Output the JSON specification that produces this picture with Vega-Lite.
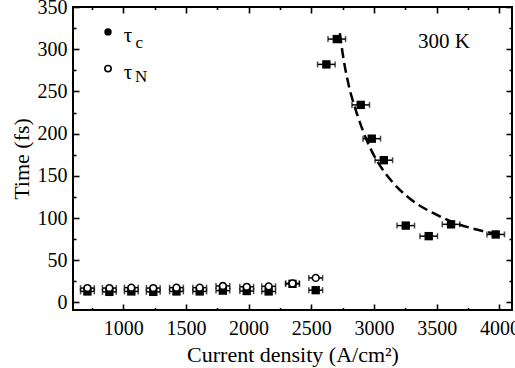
{
  "$schema": "https://vega.github.io/schema/vega-lite/v6.json",
  "width": 439,
  "height": 303,
  "autosize": {"type": "none"},
  "padding": {"left": 73, "top": 7, "right": 3, "bottom": 58},
  "background": "white",
  "config": {
    "view": {"stroke": "black", "strokeWidth": 2},
    "axis": {
      "labelFont": "serif",
      "labelFontSize": 20,
      "labelColor": "black",
      "titleFont": "serif",
      "titleFontSize": 22,
      "titleFontWeight": "normal",
      "titleColor": "black",
      "domain": false,
      "ticks": true,
      "tickColor": "black",
      "tickWidth": 1.6,
      "tickOpacity": 1,
      "grid": false
    }
  },
  "datasets": {
    "fit": [
      {"x": 2728, "y": 319}, {"x": 2745, "y": 300}, {"x": 2800, "y": 256},
      {"x": 2850, "y": 230}, {"x": 2900, "y": 208}, {"x": 2945, "y": 191},
      {"x": 3000, "y": 174}, {"x": 3075, "y": 156}, {"x": 3150, "y": 142},
      {"x": 3260, "y": 126}, {"x": 3350, "y": 116}, {"x": 3470, "y": 106},
      {"x": 3630, "y": 95}, {"x": 3800, "y": 87}, {"x": 3975, "y": 81}
    ],
    "pts": [
      {"s": "tc", "x": 715, "y": 13, "xerr": 55},
      {"s": "tc", "x": 890, "y": 12.5, "xerr": 55},
      {"s": "tc", "x": 1065, "y": 13, "xerr": 55},
      {"s": "tc", "x": 1240, "y": 12.5, "xerr": 55},
      {"s": "tc", "x": 1425, "y": 13, "xerr": 55},
      {"s": "tc", "x": 1610, "y": 13, "xerr": 55},
      {"s": "tc", "x": 1795, "y": 14, "xerr": 55},
      {"s": "tc", "x": 1985, "y": 13.5, "xerr": 55},
      {"s": "tc", "x": 2160, "y": 13, "xerr": 55},
      {"s": "tc", "x": 2350, "y": 22, "xerr": 55},
      {"s": "tc", "x": 2535, "y": 14.5, "xerr": 55},
      {"s": "tc", "x": 2620, "y": 282, "xerr": 70},
      {"s": "tc", "x": 2703, "y": 312, "xerr": 70},
      {"s": "tc", "x": 2894, "y": 234, "xerr": 70},
      {"s": "tc", "x": 2982, "y": 194, "xerr": 70},
      {"s": "tc", "x": 3078, "y": 168.5, "xerr": 70},
      {"s": "tc", "x": 3253, "y": 91, "xerr": 70},
      {"s": "tc", "x": 3436, "y": 78.5, "xerr": 70},
      {"s": "tc", "x": 3614, "y": 92.5, "xerr": 70},
      {"s": "tc", "x": 3970, "y": 80.5, "xerr": 70},
      {"s": "tN", "x": 715, "y": 17, "xerr": 55},
      {"s": "tN", "x": 890, "y": 17, "xerr": 55},
      {"s": "tN", "x": 1065, "y": 17.5, "xerr": 55},
      {"s": "tN", "x": 1240, "y": 17, "xerr": 55},
      {"s": "tN", "x": 1425, "y": 17.5, "xerr": 55},
      {"s": "tN", "x": 1610, "y": 17.5, "xerr": 55},
      {"s": "tN", "x": 1795, "y": 19.5, "xerr": 55},
      {"s": "tN", "x": 1985, "y": 18.5, "xerr": 55},
      {"s": "tN", "x": 2160, "y": 19, "xerr": 55},
      {"s": "tN", "x": 2350, "y": 22.5, "xerr": 55},
      {"s": "tN", "x": 2535, "y": 29, "xerr": 55}
    ],
    "leg": [
      {"s": "tc", "x": 879, "y": 320.5},
      {"s": "tN", "x": 879, "y": 277}
    ],
    "txt": [
      {"kind": "main", "x": 1004, "y": 308, "t": "τ"},
      {"kind": "sub", "x": 1098, "y": 302, "t": "c"},
      {"kind": "main", "x": 1004, "y": 265, "t": "τ"},
      {"kind": "sub", "x": 1095, "y": 261, "t": "N"},
      {"kind": "label", "x": 3350, "y": 302, "t": "300 K"}
    ]
  },
  "resolve": {"axis": {"x": "independent", "y": "independent"}},
  "layer": [
    {
      "encoding": {
        "x": {
          "field": "x",
          "type": "quantitative",
          "scale": {"domain": [600, 4100], "nice": false, "zero": false},
          "axis": {
            "orient": "bottom",
            "title": "Current density (A/cm²)",
            "values": [750, 1000, 1250, 1500, 1750, 2000, 2250, 2500, 2750, 3000, 3250, 3500, 3750, 4000],
            "format": "d",
            "labelExpr": "datum.value % 500 === 0 ? datum.label : ''",
            "labelPadding": 14,
            "titlePadding": 6,
            "tickSize": {"condition": {"test": "datum.value % 500 === 0", "value": -6}, "value": -2.5}
          }
        },
        "y": {
          "field": "y",
          "type": "quantitative",
          "scale": {"domain": [-9, 350], "nice": false, "zero": false},
          "axis": {
            "orient": "left",
            "title": "Time (fs)",
            "values": [0, 25, 50, 75, 100, 125, 150, 175, 200, 225, 250, 275, 300, 325, 350],
            "format": "d",
            "labelExpr": "datum.value % 50 === 0 ? datum.label : ''",
            "labelPadding": 12,
            "titlePadding": 4,
            "tickSize": {"condition": {"test": "datum.value % 50 === 0", "value": -6}, "value": -3}
          }
        }
      },
      "layer": [
        {
          "data": {"name": "fit"},
          "mark": {"type": "line", "color": "black", "strokeWidth": 2.5, "strokeDash": [10, 5], "interpolate": "monotone"}
        },
        {
          "data": {"name": "pts"},
          "mark": {"type": "errorbar", "color": "black", "thickness": 1.5, "ticks": {"size": 6, "thickness": 1.5, "color": "black"}},
          "encoding": {"xError": {"field": "xerr"}}
        },
        {
          "data": {"name": "pts"},
          "transform": [{"filter": "datum.s === 'tc'"}],
          "mark": {"type": "square", "color": "black", "filled": true, "opacity": 1, "size": 70}
        },
        {
          "data": {"name": "pts"},
          "transform": [{"filter": "datum.s === 'tN'"}],
          "mark": {"type": "point", "shape": "circle", "filled": false, "fill": "white", "stroke": "black", "strokeWidth": 1.6, "opacity": 1, "size": 45}
        },
        {
          "data": {"name": "leg"},
          "transform": [{"filter": "datum.s === 'tc'"}],
          "mark": {"type": "point", "shape": "circle", "filled": true, "color": "black", "opacity": 1, "size": 55}
        },
        {
          "data": {"name": "leg"},
          "transform": [{"filter": "datum.s === 'tN'"}],
          "mark": {"type": "point", "shape": "circle", "filled": false, "fill": "white", "stroke": "black", "strokeWidth": 1.6, "opacity": 1, "size": 40}
        },
        {
          "data": {"name": "txt"},
          "transform": [{"filter": "datum.kind !== 'sub'"}],
          "mark": {"type": "text", "font": "serif", "fontSize": 21, "color": "black", "align": "left", "baseline": "alphabetic"},
          "encoding": {"text": {"field": "t"}}
        },
        {
          "data": {"name": "txt"},
          "transform": [{"filter": "datum.kind === 'sub'"}],
          "mark": {"type": "text", "font": "serif", "fontSize": 17, "color": "black", "align": "left", "baseline": "alphabetic"},
          "encoding": {"text": {"field": "t"}}
        }
      ]
    },
    {
      "data": {"name": "leg"},
      "mark": {"type": "point", "opacity": 0},
      "encoding": {
        "x": {
          "field": "x",
          "type": "quantitative",
          "axis": {
            "orient": "top",
            "title": null,
            "labels": false,
            "values": [750, 1000, 1250, 1500, 1750, 2000, 2250, 2500, 2750, 3000, 3250, 3500, 3750, 4000],
            "tickSize": {"condition": {"test": "datum.value % 500 === 0", "value": -6}, "value": -2.5}
          }
        },
        "y": {
          "field": "y",
          "type": "quantitative",
          "axis": {
            "orient": "right",
            "title": null,
            "labels": false,
            "values": [0, 25, 50, 75, 100, 125, 150, 175, 200, 225, 250, 275, 300, 325, 350],
            "tickSize": {"condition": {"test": "datum.value % 50 === 0", "value": -6}, "value": -3}
          }
        }
      }
    }
  ]
}
